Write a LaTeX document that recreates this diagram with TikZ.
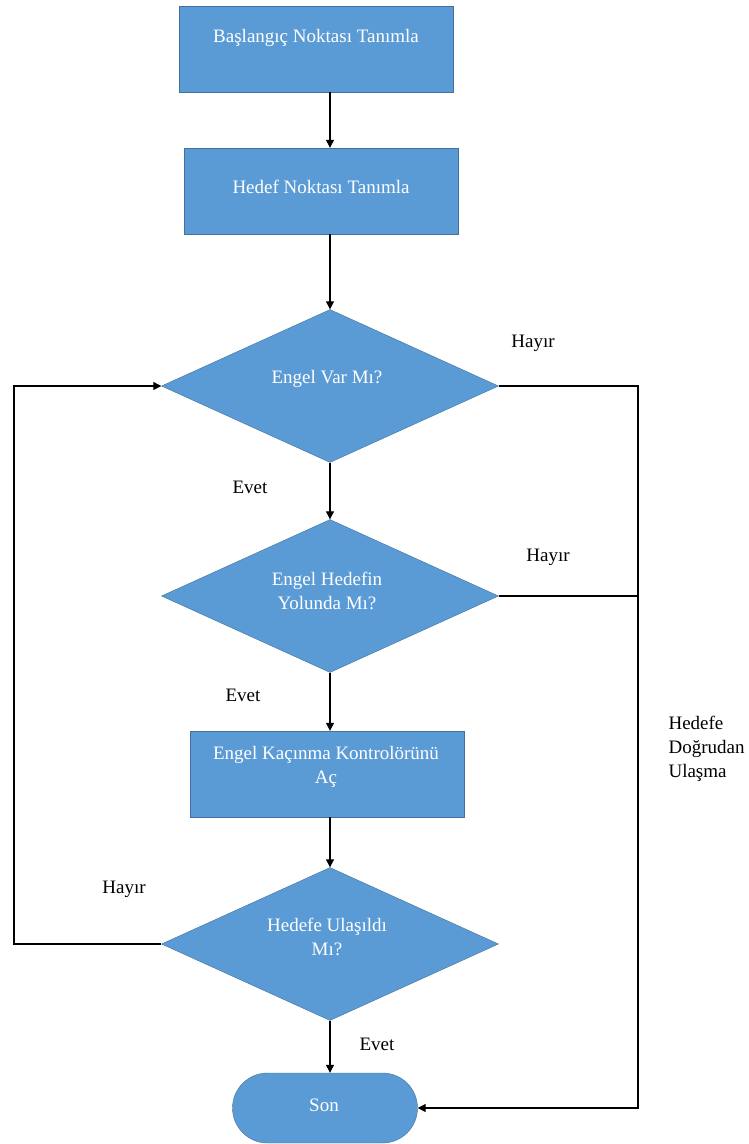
\documentclass[tikz,border=0pt]{standalone}
\usepackage{fontspec}
\setmainfont{LiberationSerif}[Extension=.ttf,UprightFont=*-Regular,BoldFont=*-Bold]
\usetikzlibrary{arrows.meta,shapes.geometric,shapes.misc}
\definecolor{flowblue}{HTML}{5B9BD5}
\definecolor{edgeblue}{HTML}{41719C}
\tikzset{
  blk/.style={draw=edgeblue,fill=flowblue,minimum width=274pt,minimum height=86pt,inner sep=0pt},
  dec/.style={diamond,draw=edgeblue,fill=flowblue,aspect=2.2,minimum width=337pt,minimum height=153pt,inner sep=0pt},
  term/.style={rounded rectangle,draw=edgeblue,fill=flowblue,minimum width=185pt,minimum height=70pt,inner sep=0pt},
  wtxt/.style={text=white,align=center,font=\fontsize{19}{24}\selectfont},
  lbl/.style={font=\fontsize{19}{24}\selectfont},
  arr/.style={-{Triangle[length=8pt,width=8pt]}},
  link/.style={line width=1.2pt}
}
\begin{document}
\begin{tikzpicture}[x=1pt,y=-1pt]
\useasboundingbox (0,0) rectangle (749,1144);
% shapes
\node[blk] (b1) at (316,49) {};\node[blk] (b2) at (321,191) {};\node[blk] (b3) at (327,774) {};
\node[dec] (d1) at (330,386) {};\node[dec] (d2) at (330,596) {};\node[dec] (d3) at (330,944) {};
\node[term] (son) at (325,1108) {};
% texts in shapes
\node[wtxt] (b1t) at (316,38) {Başlangıç Noktası Tanımla};
\node[wtxt] (b2t) at (321,187) {Hedef Noktası Tanımla};
\node[wtxt] (d1t) at (327,379) {Engel Var Mı?};
\node[wtxt] (d2t) at (327,591) {Engel Hedefin\\Yolunda Mı?};
\node[wtxt] (b3t) at (326,767) {Engel Kaçınma Kontrolörünü\\Aç};
\node[wtxt] (d3t) at (327,937) {Hedefe Ulaşıldı\\Mı?};
\node[wtxt] (sont) at (324,1105) {Son};
% answers
\foreach \n/\x/\y/\t in {no1/533/343/Hayır,no2/548/557/Hayır,no3/124/889/Hayır,yes1/250/487/Evet,yes2/243/695/Evet,yes3/377/1044/Evet}{\node[lbl] (\n) at (\x,\y) {\t};}
\node[lbl,align=left,anchor=west] (direct) at (665,749) {Hedefe\\Doğrudan\\Ulaşma};
% connectors
\coordinate (rgt) at (638,1108);\coordinate (lft) at (14,944);
\draw[link,arr] (b1.south -| d1) -- (b2.north -| d1);
\draw[link,arr] (b2.south -| d1) -- (d1.north);
\draw[link,arr] (d1.south) -- (d2.north);
\draw[link,arr] (d2.south) -- (b3.north -| d2);
\draw[link,arr] (b3.south -| d3) -- (d3.north);
\draw[link,arr] (d3.south) -- (d3.south |- son.north);
\draw[link] (d1.east) -- (d1.east -| rgt) -- (d2.east -| rgt);
\draw[link,arr] (d2.east) -- (d2.east -| rgt) -- (rgt) -- (son.east);
\draw[link,arr] (d3.west) -- (lft) -- (lft |- d1.west) -- (d1.west);
\end{tikzpicture}
\end{document}
